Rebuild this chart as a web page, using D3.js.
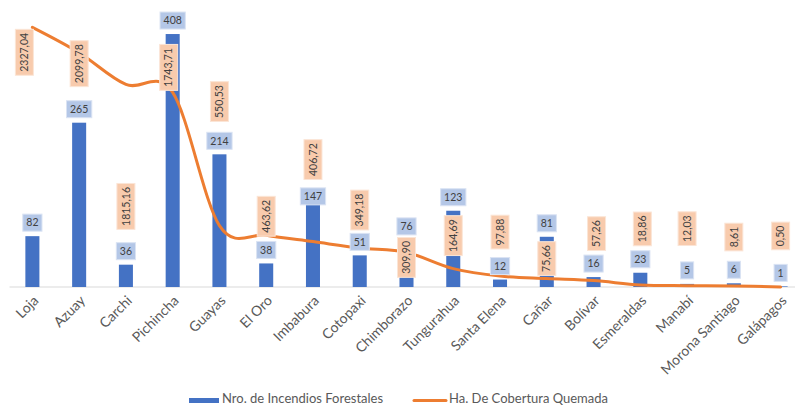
<!DOCTYPE html>
<html><head><meta charset="utf-8">
<script src="https://cdn.jsdelivr.net/npm/d3@7"></script>
<style>body{margin:0;background:#fff}svg{display:block}</style>
</head><body><svg id="c" width="795" height="405"></svg>
<script>
const categories = ["Loja","Azuay","Carchi","Pichincha","Guayas","El Oro","Imbabura","Cotopaxi","Chimborazo","Tungurahua","Santa Elena","Cañar","Bolívar","Esmeraldas","Manabí","Morona Santiago","Galápagos"];
const incendios = [82,265,36,408,214,38,147,51,76,123,12,81,16,23,5,6,1];
const hectareas = [2327.04,2099.78,1815.16,1743.71,550.53,463.62,406.72,349.18,309.90,164.69,97.88,75.66,57.26,18.86,12.03,8.61,0.50];
const seriesNames = ["Nro. de Incendios Forestales","Ha. De Cobertura Quemada"];
// manual label nudges in px (like moved Excel data labels)
const barLabelNudgeY = [0,0,0,0,0,0,14,0,0,0,0,0,0,0,0,0,0];
const lineLabelNudgeX = [-8,0,0,-4,0,0,0,0,0,0,0,0,3,2,0,0,0];
const lineLabelNudgeY = [25,11,122,-25,-124,-19,-82,-38,5,-33,-44,-20,-47,-56,-57,-49,-51];

const fmt = v => v.toFixed(2).replace(".", ",");
const svg = d3.select("#c");
const FONT = "Lato, 'Liberation Sans', sans-serif";
const x = d3.scaleBand().domain(categories).range([9, 804]).paddingInner(0.7).paddingOuter(0.35);
const yBar = d3.scaleLinear().domain([0, 450]).range([287, 8]);
const yLine = d3.scaleLinear().domain([0, 2500]).range([287, 8]);
const cx = c => x(c) + x.bandwidth() / 2;

// axis
const ax = svg.append("g").attr("transform", "translate(0,286.5)")
  .call(d3.axisBottom(x).tickSize(0).tickSizeOuter(0));
ax.select(".domain").attr("stroke", "#d9d9d9").attr("stroke-width", 1.2);
ax.selectAll("text").attr("font-family", FONT).attr("font-size", 14).attr("fill", "#595959")
  .attr("text-anchor", "end").attr("dy", null).attr("y", 0).attr("x", 0)
  .attr("transform", "translate(7,15) rotate(-45)");

// bars
svg.append("g").selectAll("rect").data(categories).join("rect")
  .attr("x", d => x(d)).attr("width", x.bandwidth())
  .attr("y", (d, i) => yBar(incendios[i]))
  .attr("height", (d, i) => yBar(0) - yBar(incendios[i]))
  .attr("fill", "#4472c4");

// line
const line = d3.line().x((d, i) => cx(categories[i])).y(d => yLine(d)).curve(d3.curveCatmullRom.alpha(0));
svg.append("path").datum(hectareas).attr("d", line)
  .attr("fill", "none").attr("stroke", "#ed7d31").attr("stroke-width", 3).attr("stroke-linecap", "round");

// bar labels
const LFS = 10.5;
const gb = svg.append("g");
categories.forEach((c, i) => {
  const g = gb.append("g").attr("transform", `translate(${cx(c)},${yBar(incendios[i]) - 13.5 + barLabelNudgeY[i]})`);
  const r = g.append("rect");
  const t = g.append("text").text(incendios[i]).attr("text-anchor", "middle").attr("dy", "0.35em")
    .attr("font-family", FONT).attr("font-size", LFS).attr("fill", "#404040");
  const w = t.node().getComputedTextLength() + 7;
  r.attr("x", -w / 2).attr("y", -8.5).attr("width", w).attr("height", 17)
    .attr("fill", "#b4c7e7").attr("stroke", "#dae3f3").attr("stroke-width", 1);
});

// line labels
const gl = svg.append("g");
categories.forEach((c, i) => {
  const g = gl.append("g").attr("transform", `translate(${cx(c) + lineLabelNudgeX[i]},${yLine(hectareas[i]) + lineLabelNudgeY[i]}) rotate(-90)`);
  const r = g.append("rect");
  const t = g.append("text").text(fmt(hectareas[i])).attr("text-anchor", "middle").attr("dy", "0.35em")
    .attr("font-family", FONT).attr("font-size", LFS).attr("fill", "#404040");
  const w = t.node().getComputedTextLength() + 7;
  r.attr("x", -w / 2).attr("y", -9).attr("width", w).attr("height", 18)
    .attr("fill", "#f8cbad").attr("stroke", "#fbe5d6").attr("stroke-width", 1);
});

// legend
const lg = svg.append("g").attr("font-family", FONT).attr("font-size", 13).attr("fill", "#595959");
lg.append("rect").attr("x", 189).attr("y", 398).attr("width", 30).attr("height", 5).attr("fill", "#4472c4");
lg.append("text").attr("x", 222).attr("y", 403).text(seriesNames[0]);
lg.append("line").attr("x1", 414).attr("x2", 446).attr("y1", 400.5).attr("y2", 400.5)
  .attr("stroke", "#ed7d31").attr("stroke-width", 3).attr("stroke-linecap", "round");
lg.append("text").attr("x", 449).attr("y", 403).text(seriesNames[1]);
</script></body></html>
